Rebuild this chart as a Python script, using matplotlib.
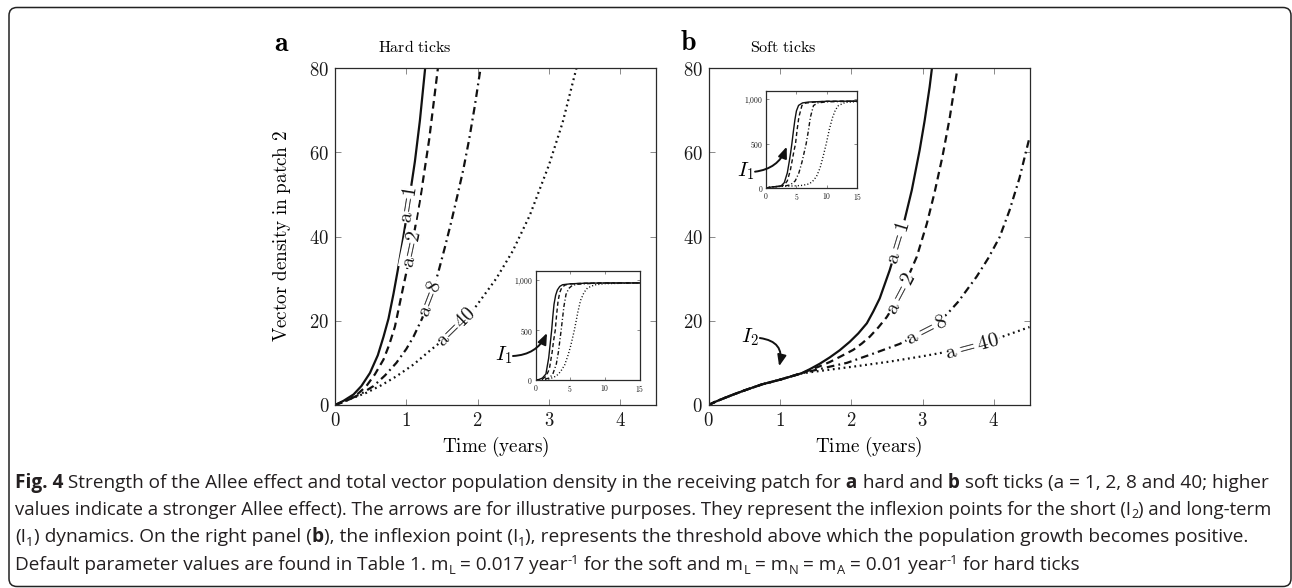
import numpy as np
import matplotlib
matplotlib.use('Agg')
import matplotlib.pyplot as plt
from matplotlib.patches import FancyBboxPatch
from matplotlib.transforms import IdentityTransform

plt.rcParams['mathtext.fontset'] = 'cm'
plt.rcParams['lines.scale_dashes'] = False

# ---- data ----
allee = [1, 2, 8, 40]

# hard ticks, main panel
hard_t1 = [0, 0.12, 0.26, 0.37, 0.49, 0.6, 0.68, 0.75, 0.82, 0.88, 0.95, 1.03, 1.12, 1.19, 1.27]
hard_v1 = [0, 1.0, 2.5, 4.5, 7.6, 11.8, 16.2, 20.5, 26.4, 32.0, 39.0, 47.6, 57.8, 67.5, 81]
hard_t2 = [0, 0.1, 0.21, 0.33, 0.44, 0.56, 0.68, 0.76, 0.84, 0.95, 1.07, 1.2, 1.32, 1.45]
hard_v2 = [0, 0.6, 1.4, 2.8, 4.5, 7.3, 10.8, 14.3, 18.6, 27.5, 37, 49.5, 63, 81]
hard_t8 = [0, 0.21, 0.38, 0.54, 0.7, 0.86, 1.0, 1.1, 1.22, 1.33, 1.44, 1.54, 1.63, 1.72, 1.8, 1.88, 1.96, 2.05]
hard_v8 = [0, 1.4, 2.8, 4.5, 7.0, 10.0, 13.3, 16.2, 20.5, 25.3, 31, 37.4, 43.5, 50, 56, 63, 71, 81]
hard_t40 = [0, 0.21, 0.44, 0.65, 0.86, 1.1, 1.33, 1.5, 1.7, 1.98, 2.26, 2.49, 2.73, 3.0, 3.19, 3.4]
hard_v40 = [0, 1.4, 2.9, 4.7, 6.8, 9.6, 12.9, 15.2, 18.5, 23.5, 30, 36.5, 45, 57, 67, 81]

# soft ticks, main panel (shared start, then each curve)
soft_start_t = [0, 0.1, 0.23, 0.35, 0.51, 0.75, 1.0, 1.2, 1.3]
soft_start_v = [0, 0.8, 1.7, 2.5, 3.5, 4.9, 6.0, 7.0, 7.5]
soft_t1 = [1.42, 1.56, 1.7, 1.84, 1.98, 2.1, 2.22, 2.31, 2.4, 2.54, 2.66, 2.75, 2.85, 2.96, 3.03, 3.1, 3.14]
soft_v1 = [8.5, 9.8, 11.3, 13.0, 15.0, 17.0, 19.4, 22.2, 25.3, 32, 38.7, 44, 51, 60.5, 67.5, 75.5, 81]
soft_t2 = [1.42, 1.56, 1.7, 1.85, 2.03, 2.15, 2.26, 2.38, 2.5, 2.6, 2.69, 2.8, 2.92, 3.06, 3.17, 3.28, 3.38, 3.5]
soft_v2 = [8.3, 9.2, 10.2, 11.5, 13.1, 14.6, 16.2, 18.4, 20.9, 23.6, 26.5, 30.5, 35.2, 43, 50.5, 59, 68, 81]
soft_t8 = [1.5, 1.7, 1.94, 2.31, 2.68, 3.06, 3.34, 3.5, 3.76, 3.92, 4.08, 4.22, 4.36, 4.5]
soft_v8 = [8.3, 9.1, 10.0, 12.2, 14.5, 17.8, 21.5, 24.5, 30.5, 34.8, 39.8, 46.2, 53.9, 63.5]
soft_t40 = [1.5, 2.07, 2.54, 3.01, 3.5, 3.7, 4.0, 4.5]
soft_v40 = [7.95, 9.2, 10.3, 11.6, 13.1, 14.0, 15.5, 18.5]

# insets (long-term dynamics, 0-15 years)
hin_t1 = [0, 0.5, 1.0, 1.5, 1.9, 2.1, 2.33, 2.5, 2.67, 2.9, 3.16, 3.5, 3.9, 5, 7, 10, 15]
hin_v1 = [0, 5, 20, 60, 220, 350, 500, 640, 760, 850, 905, 940, 957, 966, 972, 975, 975]
hin_t2 = [0, 0.5, 1, 1.5, 2.0, 2.4, 2.6, 2.85, 3.05, 3.25, 3.5, 3.8, 4.3, 5, 7, 10, 15]
hin_v2 = [0, 2, 10, 35, 110, 280, 390, 500, 660, 790, 880, 930, 955, 965, 972, 975, 975]
hin_t8 = [0, 1, 2, 2.5, 3, 3.3, 3.5, 3.7, 3.9, 4.1, 4.4, 4.8, 5.3, 6, 8, 10, 15]
hin_v8 = [0, 3, 20, 60, 160, 280, 390, 500, 620, 740, 860, 920, 950, 962, 970, 973, 975]
hin_t40 = [0, 1, 2, 3, 3.6, 4.2, 4.7, 5.1, 5.4, 5.6, 5.8, 6.1, 6.5, 7, 7.5, 8.5, 10, 15]
hin_v40 = [0, 2, 10, 40, 83, 150, 250, 350, 440, 500, 570, 680, 800, 880, 925, 955, 968, 975]

sin_t1 = [0, 1, 2, 2.5, 3, 3.5, 3.8, 4.05, 4.25, 4.5, 4.75, 5.0, 5.35, 6, 7, 10, 15]
sin_v1 = [0, 12, 18, 25, 60, 170, 290, 400, 500, 640, 770, 870, 932, 960, 970, 978, 980]
sin_t2 = [0, 1, 2, 2.5, 3, 3.5, 4, 4.3, 4.6, 4.85, 5.1, 5.4, 5.9, 6.5, 8, 10, 15]
sin_v2 = [0, 12, 18, 22, 35, 80, 200, 310, 420, 500, 650, 800, 930, 958, 970, 978, 980]
sin_t8 = [0, 1, 2, 3, 4, 4.8, 5.4, 5.9, 6.3, 6.6, 6.9, 7.3, 7.8, 8.5, 10, 15]
sin_v8 = [0, 12, 18, 22, 35, 80, 170, 290, 410, 500, 620, 800, 930, 960, 972, 980]
sin_t40 = [0, 1, 2, 3, 4, 5, 6, 7, 7.6, 8.3, 8.9, 9.4, 9.9, 10.4, 10.9, 11.4, 11.9, 13, 15]
sin_v40 = [0, 12, 16, 20, 22, 25, 30, 45, 70, 130, 230, 360, 500, 660, 790, 880, 930, 965, 975]

main_xticks = [0, 1, 2, 3, 4]
main_yticks = [0, 20, 40, 60, 80]
inset_xticks = [0, 5, 10, 15]
inset_yticks = [0, 500, 1000]
inset_xlabels = ['0', '5', '10', '15']
inset_ylabels = ['0', '500', '1{,}000']

hard_curves = [(hard_t1, hard_v1), (hard_t2, hard_v2), (hard_t8, hard_v8), (hard_t40, hard_v40)]
soft_curves = [(soft_start_t + soft_t1, soft_start_v + soft_v1),
               (soft_start_t + soft_t2, soft_start_v + soft_v2),
               (soft_start_t + soft_t8, soft_start_v + soft_v8),
               (soft_start_t + soft_t40, soft_start_v + soft_v40)]
hard_inset = [(hin_t1, hin_v1), (hin_t2, hin_v2), (hin_t8, hin_v8), (hin_t40, hin_v40)]
soft_inset = [(sin_t1, sin_v1), (sin_t2, sin_v2), (sin_t8, sin_v8), (sin_t40, sin_v40)]

# ---- layout ----
W, H = 1292, 588
fig = plt.figure(figsize=(W / 100, H / 100), dpi=100)
fig.patch.set_facecolor('white')


def px_box(x0, y0, x1, y1):
    return [x0 / W, 1 - y1 / H, (x1 - x0) / W, (y1 - y0) / H]


ax_a = fig.add_axes(px_box(335, 68, 656, 405))
ax_b = fig.add_axes(px_box(708.5, 68, 1029.5, 405))
in_a = fig.add_axes(px_box(535.5, 270.5, 639.5, 380))
in_b = fig.add_axes(px_box(766, 90.5, 857.3, 188))

main_style = {1: dict(ls='-'), 2: dict(dashes=(5.5, 3.5)),
              8: dict(dashes=(5.5, 3, 1.3, 3)), 40: dict(dashes=(1.3, 2.6))}
inset_style = {1: dict(ls='-'), 2: dict(dashes=(3, 2)),
               8: dict(dashes=(3, 1.6, 0.8, 1.6)), 40: dict(dashes=(0.8, 1.5))}


def frame(ax, fs, ticklen, pad):
    ax.tick_params(direction='in', top=True, right=True, length=ticklen, width=0.7,
                   color='#8a8a8a', labelsize=fs, pad=pad, labelcolor='#1a1a1a')
    for s in ax.spines.values():
        s.set_color('#2a2a2a')
        s.set_linewidth(0.9)


for ax, curves in [(ax_a, hard_curves), (ax_b, soft_curves)]:
    for a, (t, v) in zip(allee, curves):
        ax.plot(t, v, color='#111111', lw=1.6, **main_style[a])
    ax.set_xlim(0, 4.5)
    ax.set_ylim(0, 80)
    ax.set_xticks(main_xticks)
    ax.set_yticks(main_yticks)
    ax.set_xticklabels([r'$\mathrm{%d}$' % v for v in main_xticks])
    ax.set_yticklabels([r'$\mathrm{%d}$' % v for v in main_yticks])
    frame(ax, 13.5, 4, 4)

for ax, curves in [(in_a, hard_inset), (in_b, soft_inset)]:
    for a, (t, v) in zip(allee, curves):
        ax.plot(t, v, color='#111111', lw=1.0, **inset_style[a])
    ax.set_xlim(0, 15)
    ax.set_ylim(0, 1100)
    ax.set_xticks(inset_xticks)
    ax.set_yticks(inset_yticks)
    ax.set_xticklabels([r'$\mathrm{%s}$' % s for s in inset_xlabels])
    ax.set_yticklabels([r'$\mathrm{%s}$' % s for s in inset_ylabels])
    frame(ax, 5.5, 2.5, 2)


def sloped_label(ax, t, v, t0, text, fs):
    t = np.asarray(t)
    v = np.asarray(v)
    v0 = np.interp(t0, t, v)
    i = np.searchsorted(t, t0)
    p1 = ax.transData.transform((t[i - 1], v[i - 1]))
    p2 = ax.transData.transform((t[i], v[i]))
    ang = np.degrees(np.arctan2(p2[1] - p1[1], p2[0] - p1[0]))
    ax.text(t0, v0, text, rotation=ang, rotation_mode='anchor', ha='center', va='center',
            fontsize=fs, color='#111111', zorder=5,
            bbox=dict(fc='white', ec='none', pad=0.2))


label_pos_a = [1.03, 1.07, 1.33, 1.70]
label_pos_b = [2.66, 2.69, 3.06, 3.70]
for a, (t, v), t0 in zip(allee, hard_curves, label_pos_a):
    sloped_label(ax_a, t, v, t0, r'$\mathrm{a}\!=\!%d$' % a, 14.5)
for a, (t, v), t0 in zip(allee, soft_curves, label_pos_b):
    sloped_label(ax_b, t, v, t0, r'$\mathrm{a{=}%d}$' % a, 15)

# arrows marking inflexion points
arrow_kw = dict(arrowstyle='-|>,head_length=0.55,head_width=0.22', color='#111111', lw=1.4,
                shrinkA=0, shrinkB=0, mutation_scale=12)
in_a.annotate('', xy=(1.66, 472), xytext=(-3.25, 241), annotation_clip=False,
              arrowprops=dict(connectionstyle='arc3,rad=0.3', **arrow_kw))
in_a.text(-3.35, 250, r'$I_1$', fontsize=15, ha='right', va='center', clip_on=False)
in_b.annotate('', xy=(3.4, 466), xytext=(-1.8, 184), annotation_clip=False,
              arrowprops=dict(connectionstyle='arc3,rad=0.3', **arrow_kw))
in_b.text(-1.9, 190, r'$I_1$', fontsize=15, ha='right', va='center', clip_on=False)
ax_b.annotate('', xy=(0.99, 9.2), xytext=(0.72, 15.9),
              arrowprops=dict(connectionstyle='arc3,rad=-0.55', **arrow_kw))
ax_b.text(0.71, 16.0, r'$I_2$', fontsize=15, ha='right', va='center')

# panel labels and titles
fig.text(282 / W, 1 - 236 / H, r'$\mathrm{Vector\ density\ in\ patch\ 2}$', rotation=90,
         ha='center', va='center', fontsize=13.8)
for cx in [495.5, 868.5]:
    fig.text(cx / W, 1 - 447 / H, r'$\mathrm{Time\ (years)}$', ha='center', va='center', fontsize=13.8)
fig.text(282 / W, 1 - 43 / H, r'$\mathbf{a}$', ha='center', va='center', fontsize=20)
fig.text(688 / W, 1 - 42 / H, r'$\mathbf{b}$', ha='center', va='center', fontsize=20)
fig.text(415 / W, 1 - 47 / H, r'$\mathrm{Hard\ ticks}$', ha='center', va='center', fontsize=11.5)
fig.text(783 / W, 1 - 47 / H, r'$\mathrm{Soft\ ticks}$', ha='center', va='center', fontsize=11.5)

# caption: (baseline y, right end in px, pieces)
caption = [
    (488, 1277, [('Fig. 4', 'b'), (' Strength of the Allee effect and total vector population density in the receiving patch for', 'n'),
                 (' a', 'b'), (' hard and', 'n'), (' b', 'b'), (' soft ticks (a = 1, 2, 8 and 40; higher', 'n')]),
    (515, 1275, [('values indicate a stronger Allee effect). The arrows are for illustrative purposes. They represent the inflexion points for the short (I', 'n'),
                 ('2', 'sub'), (') and long-term', 'n')]),
    (542, 1250, [('(I', 'n'), ('1', 'sub'), (') dynamics. On the right panel (', 'n'), ('b', 'b'),
                 ('), the inflexion point (I', 'n'), ('1', 'sub'),
                 ('), represents the threshold above which the population growth becomes positive.', 'n')]),
    (570, 1082, [('Default parameter values are found in Table 1. m', 'n'), ('L', 'sub'), (' = 0.017 year', 'n'),
                 ('-1', 'sup'), (' for the soft and m', 'n'), ('L', 'sub'), (' = m', 'n'), ('N', 'sub'),
                 (' = m', 'n'), ('A', 'sub'), (' = 0.01 year', 'n'), ('-1', 'sup'), (' for hard ticks', 'n')]),
]

renderer = fig.canvas.get_renderer()
CAP_COLOR = '#231f20'


def caption_line(y_px, parts, fs):
    x = 15.0
    made = []
    for text, kind in parts:
        size, dy, weight = fs, 0, 'normal'
        if kind == 'b':
            weight = 'bold'
        elif kind == 'sub':
            size, dy = fs * 0.68, -3.5
        elif kind == 'sup':
            size, dy = fs * 0.68, 6
        t = fig.text(x / W, (H - y_px + dy) / H, text, fontsize=size, fontweight=weight,
                     family='Open Sans', color=CAP_COLOR, ha='left', va='baseline')
        x += t.get_window_extent(renderer).width
        made.append(t)
    return x, made


# fit each caption line to the width it has in the figure
for y_px, x_end, parts in caption:
    end_x, tmp = caption_line(y_px, parts, 11.0)
    for t in tmp:
        t.remove()
    caption_line(y_px, parts, 11.0 * (x_end - 15) / (end_x - 15))

box = FancyBboxPatch((9, 1.5), 1282, 579, boxstyle='round,pad=0,rounding_size=8',
                     transform=IdentityTransform(), fill=False, lw=1.1, ec='#222222')
fig.add_artist(box)

fig.savefig('out.png', dpi=100, facecolor='white')
